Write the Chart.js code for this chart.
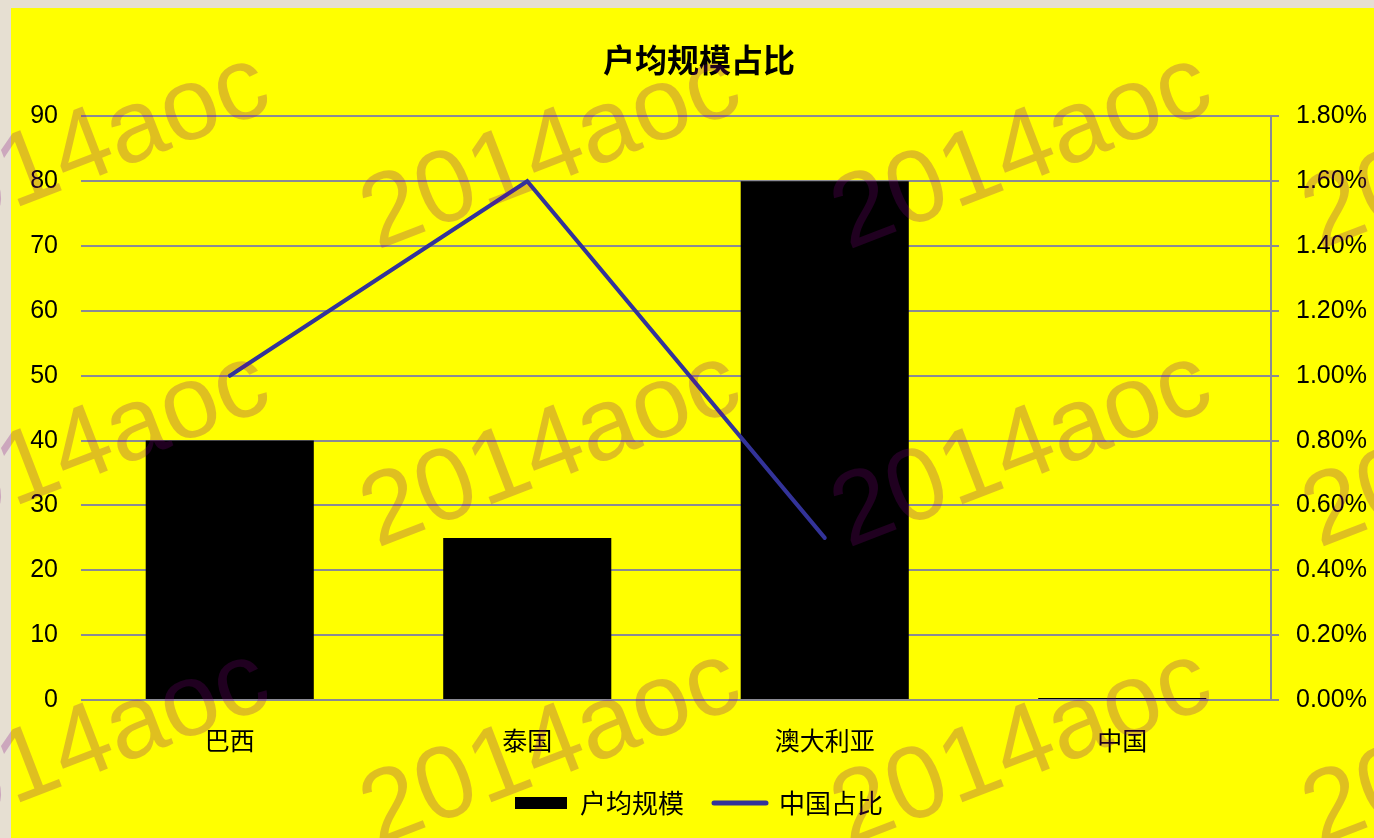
<!DOCTYPE html>
<html>
<head>
<meta charset="utf-8">
<script src="https://cdn.jsdelivr.net/npm/chart.js@4.4.0/dist/chart.umd.min.js"></script>
<style>
  html, body { margin: 0; padding: 0; background: #e6dfd2; }
  #wrap { width: 1374px; height: 838px; }
</style>
</head>
<body>
<div id="wrap"><canvas id="chart"></canvas></div>
<script>
const categories    = ['巴西', '泰国', '澳大利亚', '中国'];
const householdSize = [40, 25, 80, 0.3];
const chinaShare    = [0.010, 0.016, 0.005, null];
const leftMax  = 90,    leftStep  = 10;
const rightMax = 0.018, rightStep = 0.002;

const font   = '"Liberation Sans", "Noto Sans CJK SC", sans-serif';
const cjk    = '"Noto Sans CJK SC", "Liberation Sans", sans-serif';
const gridC  = '#8a8a94';
const lineC  = '#333399';

// beige frame + yellow panel, and the repeated watermark drawn over everything
const backdrop = {
  id: 'backdrop',
  beforeDraw(chart) {
    const c = chart.ctx;
    c.save();
    c.fillStyle = '#e6dfd2';
    c.fillRect(0, 0, chart.width, chart.height);
    c.fillStyle = '#ffff00';
    c.fillRect(11, 8, chart.width - 11, chart.height - 8);
    c.restore();
  },
  afterDraw(chart) {
    const c = chart.ctx;
    c.save();
    c.font = '103px "Liberation Sans", sans-serif';
    c.fillStyle = 'rgba(128,0,128,0.25)';
    c.textBaseline = 'alphabetic';
    for (let i = -1; i <= 2; i++) {
      for (let j = 0; j <= 2; j++) {
        c.save();
        c.translate(377 + 471 * i, 250 + 298 * j);
        c.rotate(-21 * Math.PI / 180);
        c.fillText('2014aoc', 0, 0);
        c.restore();
      }
    }
    c.restore();
  }
};

new Chart(document.getElementById('chart'), {
  data: {
    labels: categories,
    datasets: [
      {
        type: 'line', label: '中国占比', data: chinaShare, yAxisID: 'y1',
        borderColor: lineC, backgroundColor: lineC, borderWidth: 4,
        borderCapStyle: 'round', pointRadius: 0, pointHoverRadius: 0,
        tension: 0, order: 0,
      },
      {
        type: 'bar', label: '户均规模', data: householdSize, yAxisID: 'y',
        backgroundColor: '#000000', borderWidth: 0,
        categoryPercentage: 1, barPercentage: 0.565, order: 1,
      },
    ],
  },
  options: {
    responsive: true, maintainAspectRatio: false, animation: false,
    layout: { padding: { left: 24, top: 8, right: 0, bottom: 12 } },
    plugins: {
      title: {
        display: true, text: '户均规模占比', color: '#000',
        font: { family: cjk, size: 32, weight: 'bold' },
        padding: { top: 33, bottom: 37 },
      },
      legend: {
        position: 'bottom',
        reverse: true,
        labels: {
          color: '#000', font: { family: cjk, size: 26 },
          usePointStyle: true, pointStyleWidth: 52, boxHeight: 12, padding: 30,
          generateLabels(chart) {
            const items = Chart.defaults.plugins.legend.labels.generateLabels(chart);
            return items.map(it => {
              const ds = chart.data.datasets[it.datasetIndex];
              if (ds.type === 'line') {
                it.pointStyle = 'line'; it.lineWidth = 5; it.strokeStyle = lineC; it.lineCap = 'round';
              } else {
                it.pointStyle = 'rect'; it.lineWidth = 0; it.fillStyle = '#000';
              }
              return it;
            });
          },
        },
      },
      tooltip: { enabled: false },
    },
    scales: {
      x: {
        grid: { display: false }, border: { display: false },
        ticks: { color: '#000', font: { family: cjk, size: 25 }, padding: 17 },
        afterFit(s) { s.height = 60; },
      },
      y: {
        position: 'left', min: 0, max: leftMax,
        ticks: { stepSize: leftStep, color: '#000', font: { family: font, size: 25 }, padding: 23 },
        grid: { color: gridC, lineWidth: 2, drawTicks: false },
        border: { display: false },
        afterFit(s) { s.width = 57; },
      },
      y1: {
        position: 'right', min: 0, max: rightMax,
        ticks: {
          stepSize: rightStep, color: '#000', font: { family: font, size: 25 }, padding: 17,
          callback: v => (v * 100).toFixed(2) + '%',
        },
        grid: { drawOnChartArea: false, color: gridC, lineWidth: 2, tickLength: 8 },
        border: { color: gridC, width: 2 },
        afterFit(s) { s.width = 103; },
      },
    },
  },
  plugins: [backdrop],
});
</script>
</body>
</html>
